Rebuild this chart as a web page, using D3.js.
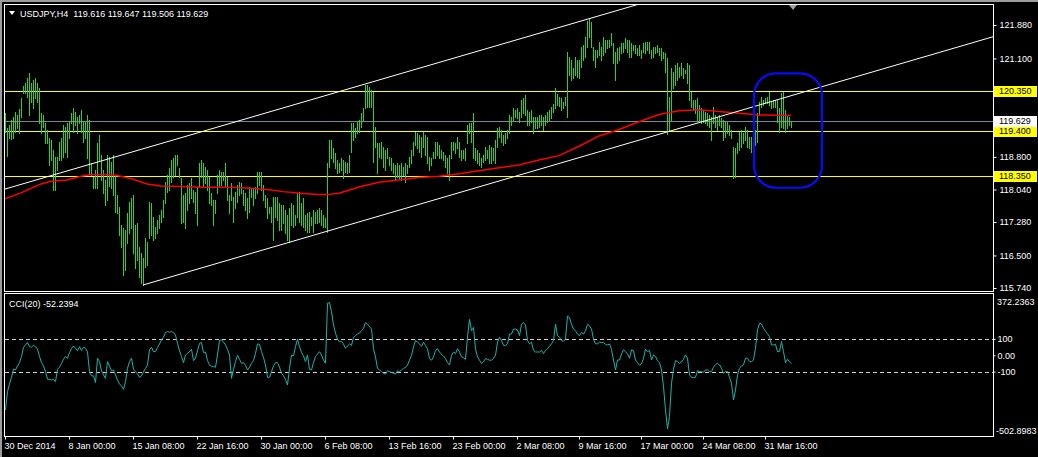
<!DOCTYPE html>
<html><head><meta charset="utf-8">
<script src="https://cdn.jsdelivr.net/npm/d3@7"></script>
<style>html,body{margin:0;padding:0;background:#000;overflow:hidden}
text{font-family:"Liberation Sans",Arial,sans-serif;font-size:9px;}</style>
</head><body><svg id="c" width="1038" height="457"></svg>
<script>
// ---------------- DATA ----------------
const symbolTitle = "USDJPY,H4";
const lastOHLC = [119.616, 119.647, 119.506, 119.629];
const highs = [
119.83,119.47,119.55,119.66,119.73,119.85,119.78,119.92,120.17,120.46,
120.52,120.64,120.76,120.52,120.60,120.64,120.52,120.41,119.83,119.78,
119.59,119.43,119.24,119.20,118.96,118.80,118.80,119.15,119.24,119.55,
119.50,119.59,119.62,119.83,119.94,119.85,119.73,119.78,119.90,119.62,
119.62,119.78,119.66,118.66,118.33,118.50,119.13,119.31,118.85,118.50,
118.26,118.85,118.80,118.68,118.85,118.38,117.91,117.63,117.21,117.14,
117.09,117.49,117.75,117.84,117.91,117.21,117.26,116.70,116.56,116.44,
116.91,116.81,117.75,117.72,117.40,117.16,117.33,117.44,117.56,117.79,
118.21,118.38,118.54,118.73,118.77,118.85,118.85,118.54,118.31,117.91,
117.96,118.15,118.19,118.31,118.03,117.98,118.10,118.66,118.73,118.66,
118.56,118.50,118.33,117.96,117.79,117.79,118.38,118.50,118.45,118.45,
118.66,118.33,117.91,118.19,117.86,117.98,118.15,118.21,118.19,118.03,
117.96,117.84,118.10,118.07,118.07,118.10,118.45,118.45,118.45,118.15,
117.91,117.84,117.63,117.63,117.86,117.86,117.86,117.72,117.68,117.68,
117.56,117.44,117.61,117.72,117.68,117.44,117.96,117.98,117.72,117.84,
117.44,117.49,117.51,117.40,117.56,117.51,117.56,117.61,117.56,117.44,
117.37,118.66,119.20,119.20,119.01,118.89,118.73,118.66,118.77,118.73,
118.68,118.66,118.85,119.59,119.59,119.47,119.62,119.66,119.83,119.94,
120.48,120.48,120.44,120.36,120.32,119.50,119.12,119.12,119.15,119.03,
118.96,119.00,118.80,118.77,118.66,118.61,118.66,118.61,118.66,118.57,
118.66,118.61,118.80,118.96,119.15,119.38,119.35,119.31,119.27,119.38,
119.31,119.27,118.80,118.77,118.91,119.15,119.15,119.08,118.96,118.91,
118.85,118.77,118.85,119.15,119.15,119.12,119.27,119.15,118.96,118.96,
119.01,119.55,119.59,119.59,119.83,119.01,118.96,118.89,118.77,118.85,
119.03,118.96,119.08,119.03,119.01,119.20,119.47,119.50,119.43,119.31,
119.36,119.43,119.78,119.73,119.94,119.90,119.94,119.85,120.13,120.17,
120.25,119.90,119.85,119.90,119.73,119.73,119.73,119.78,119.78,119.73,
119.78,119.85,119.90,119.97,120.04,120.41,120.27,120.20,120.17,120.08,
120.20,121.25,121.14,121.06,120.88,121.14,121.06,121.06,121.37,121.41,
121.60,121.98,122.03,121.95,121.37,121.30,121.30,121.48,121.37,121.60,
121.53,121.53,121.53,121.69,121.45,121.25,121.34,121.37,121.45,121.45,
121.57,121.53,121.53,121.45,121.41,121.41,121.34,121.41,121.30,121.45,
121.48,121.48,121.48,121.30,121.37,121.37,121.41,121.34,121.34,121.25,
121.22,121.11,120.20,120.87,120.78,120.95,120.99,120.90,120.99,120.87,
120.83,120.99,120.95,120.32,120.13,120.13,120.17,120.01,119.94,119.90,
119.85,119.83,119.78,119.73,119.97,119.78,119.73,119.78,119.71,119.66,
119.62,119.62,119.55,119.43,119.03,119.01,119.12,119.38,119.43,119.36,
119.50,119.43,119.27,119.27,119.31,119.43,119.82,120.08,120.20,120.13,
120.17,120.20,120.32,120.08,120.13,120.13,120.13,119.94,120.29,120.32,
119.90,119.78,119.73,119.647];
const lows = [
119.38,118.82,119.24,119.22,119.24,119.38,119.48,119.36,119.73,120.29,
120.29,120.20,119.78,120.08,119.94,120.17,120.08,119.59,119.36,119.50,
119.13,119.13,118.61,118.73,118.03,118.03,118.50,118.73,118.73,118.80,
118.92,118.80,119.24,119.59,119.38,119.55,119.36,119.59,119.38,119.15,
119.24,118.77,118.42,118.38,118.07,118.07,118.07,118.73,118.26,117.96,
117.68,117.79,118.12,118.07,117.91,117.51,117.49,116.98,116.70,116.04,
116.16,116.79,117.02,117.14,116.56,116.21,116.39,116.00,115.86,115.81,
116.23,116.28,116.91,116.98,116.86,116.91,117.02,117.14,117.28,117.40,
117.72,117.98,118.03,118.21,118.33,118.38,118.61,118.33,117.26,117.28,
117.14,117.56,117.72,117.84,117.75,117.49,117.21,118.10,118.33,118.10,
118.19,118.03,117.72,117.68,117.21,117.49,117.96,118.10,118.15,118.26,
118.10,117.79,117.49,117.79,117.28,117.61,117.75,117.91,117.96,117.68,
117.56,117.37,117.51,117.86,117.68,117.84,117.96,118.15,118.03,117.79,
117.63,117.37,117.49,117.28,116.86,117.40,117.33,117.09,117.09,117.26,
117.02,116.86,116.81,117.21,117.16,117.21,117.40,117.28,117.21,117.16,
117.09,117.05,117.05,117.21,117.05,117.26,117.26,117.28,117.21,117.16,
117.16,117.05,118.57,118.77,118.68,118.54,118.42,118.45,118.50,118.31,
118.45,118.42,118.45,118.92,119.20,119.27,119.36,119.38,119.50,119.66,
119.94,119.97,119.97,119.97,118.68,119.04,118.42,118.80,118.77,118.57,
118.50,118.77,118.61,118.50,118.42,118.26,118.33,118.31,118.26,118.38,
118.21,118.42,118.57,118.66,118.85,119.08,119.01,118.92,118.80,119.03,
118.85,118.66,118.50,118.61,118.77,118.77,118.85,118.77,118.77,118.73,
118.57,118.42,118.26,118.77,118.96,118.89,119.01,118.80,118.73,118.77,
118.73,119.12,119.36,119.15,118.77,118.73,118.66,118.61,118.57,118.68,
118.73,118.77,118.66,118.66,118.73,118.66,119.03,119.27,119.15,119.08,
119.12,119.24,119.36,119.55,119.66,119.73,119.71,119.62,119.73,119.82,
119.78,119.55,119.55,119.62,119.36,119.47,119.47,119.50,119.55,119.43,
119.55,119.62,119.66,119.71,119.85,119.94,120.01,119.99,119.90,119.94,
120.01,119.73,120.71,120.60,120.64,120.71,120.67,120.64,120.90,121.06,
121.13,121.37,121.60,121.37,121.06,120.90,121.13,121.18,121.06,121.18,
121.25,121.34,121.37,121.41,120.99,120.60,120.99,121.06,121.22,121.25,
121.34,121.25,121.13,121.13,121.30,121.22,121.18,121.18,121.11,121.25,
121.22,121.30,121.22,121.11,121.13,121.22,121.25,121.18,121.06,121.11,
120.78,119.33,119.43,119.66,120.41,120.48,120.60,120.67,120.71,120.64,
120.76,120.52,120.13,119.97,119.90,119.82,119.66,119.66,119.59,119.62,
119.59,119.55,119.50,119.20,119.59,119.50,119.43,119.55,119.50,119.20,
119.27,119.36,119.31,119.24,118.31,118.33,118.89,118.96,119.03,119.12,
119.20,119.03,119.01,118.92,119.08,119.08,119.15,119.78,119.97,120.01,
120.06,120.06,120.01,119.94,119.97,119.97,119.62,119.38,119.50,119.47,
119.38,119.47,119.55,119.506];
// red moving average, read at these bar indices
const maIndex  = [0,8,18,23,31,38,43,53,58,64,71,78,88,98,113,123,131,139,148,156,161,167,177,187,197,207,217,227,237,247,257,267,277,287,297,307,317,327,337,347,357,367,377,393];
const maValues = [117.82,117.96,118.17,118.23,118.26,118.35,118.39,118.39,118.35,118.28,118.17,118.12,118.11,118.09,118.09,118.07,118.04,117.99,117.95,117.92,117.92,117.95,118.10,118.21,118.26,118.32,118.35,118.41,118.48,118.55,118.61,118.73,118.83,119.05,119.29,119.44,119.62,119.79,119.88,119.90,119.86,119.82,119.78,119.77];
const cci = [
-335,-222,-175,-135,-84,-90,-65,-45,-8,49,
63,78,53,49,61,53,37,-8,-45,-65,
-100,-147,-147,-151,-147,-161,-86,-73,-49,-24,
-8,-18,16,41,57,43,27,53,29,49,
43,20,-100,-126,-126,-167,-18,-39,-96,-120,
-141,-39,-65,-96,-90,-120,-151,-175,-188,-208,
-161,-80,-39,-18,-86,-100,-114,-135,-126,-102,
-80,-59,33,49,22,22,47,69,94,110,
139,145,141,145,139,124,73,27,-8,-45,
2,12,22,37,-33,-18,27,73,78,16,
20,-33,-61,-67,-69,-73,2,90,94,80,
63,37,2,-141,-86,-39,0,-24,-49,-45,
-61,-90,-73,-49,-33,12,69,67,22,-14,
-59,-135,-135,-100,-65,-45,-45,-73,-110,-126,
-147,-182,-80,2,-4,53,98,53,16,-4,
-39,2,-86,-90,-45,-8,8,22,2,-29,
-49,318,322,267,186,135,98,82,84,69,
43,57,69,60,110,120,130,135,150,165,
200,190,175,160,40,-10,-80,-90,-100,-110,
-115,-95,-100,-105,-110,-115,-95,-100,-90,-80,
-75,-60,-30,0,50,90,80,70,55,80,
60,40,-20,-30,-10,30,40,20,5,-5,
-20,-45,-60,0,20,10,40,20,-10,-15,
-25,110,220,150,170,40,-10,-30,-50,-40,
-20,-25,-30,-30,-20,0,80,110,90,60,
60,70,130,130,160,160,155,120,190,200,
185,90,70,80,30,20,20,20,30,10,
30,40,55,70,90,190,120,110,90,85,
100,240,230,190,160,150,130,120,140,130,
150,190,180,160,100,70,70,80,78,78,
67,63,69,37,-29,-90,-29,-29,8,33,
22,8,-18,33,27,-29,-45,-61,-53,-18,
37,22,29,-29,2,-8,-33,-45,-90,-192,
-335,-450,-375,-171,-86,-33,-37,-49,-41,-24,
2,-18,-120,-135,-137,-135,-94,-100,-100,-104,
-90,-90,-100,-100,-73,-57,-49,-59,-80,-110,
-100,-100,-135,-171,-273,-212,-120,-80,-65,-59,
-18,-18,-39,-39,-29,43,155,196,192,165,
147,131,114,63,63,67,22,22,84,22,
-45,-24,-39,-52];
const cciLast = -52.2394;
const cciPeriod = 20;
const timeTickIndex  = [0,32,64,96,128,160,192,224,256,287,318,349,380];
const timeTickLabels = ["30 Dec 2014","8 Jan 00:00","15 Jan 08:00","22 Jan 16:00","30 Jan 00:00","6 Feb 08:00","13 Feb 16:00","23 Feb 00:00","2 Mar 08:00","9 Mar 16:00","17 Mar 00:00","24 Mar 08:00","31 Mar 16:00"];
const priceTicks = [121.88,121.10,118.80,118.04,117.28,116.50,115.74];
const priceDomain = [115.74,121.88];
const hLevels = [120.35,119.40,118.35];
const bidPrice = 119.629;
const channelUpper = [[0,118.05],[268,121.70]];
const channelLower = [[69,115.81],[300,118.96]];
const cciDomain = [-502.8983,372.2363];
const cciLevels = [100,-100];
const cciTickValues = [100,0,-100];
const cciTickLabels = ["100","0.00","-100"];
const highlightBox = {i0:374.5, i1:408.5, pTop:120.75, pBottom:118.08};

// ---------------- DRAW ----------------
const svg = d3.select("#c");
const L=4.5, R=993.5, mT=4.5, mB=291.5, sT=293.5, sB=436.5;
const FONT = "Liberation Sans, Arial, sans-serif";
svg.append("rect").attr("width",1038).attr("height",457).attr("fill","#000");
svg.append("rect").attr("x",0).attr("y",0).attr("width",2).attr("height",457).attr("fill","#9c9c9c");
svg.append("rect").attr("x",0).attr("y",0).attr("width",1038).attr("height",2).attr("fill","#9c9c9c");

const n = highs.length;
const x = d3.scaleLinear().domain([0,n-1]).range([5,5+2*(n-1)]);
const y = d3.scaleLinear().domain(priceDomain).range([288,25]);
const yc = d3.scaleLinear().domain(cciDomain).range([437.5,294.4]);
const px = v => Math.round(v)+0.5;
const fix = (v,k) => v.toFixed(k); // plain ASCII hyphen for negatives

const defs = svg.append("defs");
defs.append("clipPath").attr("id","cm").append("rect").attr("x",5).attr("y",5).attr("width",988).attr("height",286);
defs.append("clipPath").attr("id","cs").append("rect").attr("x",5).attr("y",294).attr("width",988).attr("height",142);

const gm = svg.append("g").attr("clip-path","url(#cm)");
// horizontal levels
gm.append("line").attr("x1",5).attr("x2",993).attr("y1",px(y(bidPrice))).attr("y2",px(y(bidPrice)))
  .attr("stroke","#778899").attr("shape-rendering","crispEdges");
gm.selectAll("line.lvl").data(hLevels).join("line").attr("class","lvl")
  .attr("x1",5).attr("x2",993).attr("y1",d=>px(y(d))).attr("y2",d=>px(y(d)))
  .attr("stroke","#ffff00").attr("shape-rendering","crispEdges");
// bars
gm.selectAll("line.bar").data(d3.range(n)).join("line").attr("class","bar")
  .attr("x1",i=>px(x(i))).attr("x2",i=>px(x(i)))
  .attr("y1",i=>Math.round(y(highs[i]))).attr("y2",i=>Math.round(y(lows[i]))+1)
  .attr("stroke","#32cd32").attr("shape-rendering","crispEdges");
// moving average
gm.append("path").datum(d3.range(maIndex.length))
  .attr("d",d3.line().x(k=>x(maIndex[k])).y(k=>y(maValues[k])))
  .attr("fill","none").attr("stroke","#ff0000").attr("stroke-width",1.5);
// channel
function ray(a,b){const s=(b[1]-a[1])/(b[0]-a[0]);const e=520;return [[a[0],a[1]],[e,a[1]+s*(e-a[0])]];}
[channelUpper,channelLower].forEach(c=>{
  gm.append("path").datum(ray(c[0],c[1]))
    .attr("d",d3.line().x(d=>x(d[0])).y(d=>y(d[1])))
    .attr("stroke","#ffffff").attr("stroke-width",1).attr("fill","none");
});
// highlight box
gm.append("rect").attr("x",x(highlightBox.i0)).attr("y",y(highlightBox.pTop))
  .attr("width",x(highlightBox.i1)-x(highlightBox.i0)).attr("height",y(highlightBox.pBottom)-y(highlightBox.pTop))
  .attr("rx",22).attr("ry",22).attr("fill","none").attr("stroke","#0a0aff").attr("stroke-width",2.2);

// frames
svg.append("rect").attr("x",L).attr("y",mT).attr("width",R-L).attr("height",mB-mT).attr("fill","none").attr("stroke","#fff");
svg.append("rect").attr("x",L).attr("y",sT).attr("width",R-L).attr("height",sB-sT).attr("fill","none").attr("stroke","#fff");

// price axis
const ay = svg.append("g").attr("transform",`translate(${R},0)`)
  .call(d3.axisRight(y).tickValues(priceTicks).tickSize(3).tickPadding(3).tickFormat(d=>fix(d,3)));
ay.select(".domain").remove();
ay.selectAll("line").attr("stroke","#fff");
ay.selectAll("text").attr("fill","#fff").style("font-size","9px").style("font-family",FONT);

// level labels
const lab = [...hLevels.map(v=>({v,bg:"#ffff00"})),{v:bidPrice,bg:"#ffffff"}];
lab.forEach(d=>{
  const cy = y(d.v);
  svg.append("rect").attr("x",994).attr("y",Math.round(cy)-5).attr("width",43).attr("height",11).attr("fill",d.bg);
  svg.append("text").attr("x",999).attr("y",cy).attr("dy","0.33em").attr("fill","#000").text(fix(d.v,3));
});

// header
svg.append("path").attr("d","M9,11 L15,11 L12,15 Z").attr("fill","#fff");
svg.append("text").attr("x",20).attr("y",16.5).attr("fill","#fff").attr("xml:space","preserve")
  .text(symbolTitle+"  "+lastOHLC.map(v=>fix(v,3)).join(" "));
// chart shift marker
svg.append("path").attr("d","M789,5 L797,5 L793,10 Z").attr("fill","#a0a0a0");

// CCI panel
const gs = svg.append("g").attr("clip-path","url(#cs)");
gs.selectAll("line.cl").data(cciLevels).join("line").attr("class","cl")
  .attr("x1",5).attr("x2",993).attr("y1",d=>px(yc(d))).attr("y2",d=>px(yc(d)))
  .attr("stroke","#d0d0d0").attr("stroke-dasharray","4,3").attr("shape-rendering","crispEdges");
gs.append("path").datum(cci)
  .attr("d",d3.line().x((d,i)=>x(i)+0.5).y(d=>yc(d)))
  .attr("fill","none").attr("stroke","#20b2aa").attr("stroke-width",1);
svg.append("text").attr("x",9).attr("y",307).attr("fill","#fff")
  .text(`CCI(${cciPeriod}) ${fix(cciLast,4)}`);
const ac = svg.append("g").attr("transform",`translate(${R},0)`)
  .call(d3.axisRight(yc).tickValues(cciTickValues).tickSize(2).tickPadding(2).tickFormat((d,i)=>cciTickLabels[i]));
ac.select(".domain").remove();
ac.selectAll("line").attr("stroke","#fff");
ac.selectAll("text").attr("fill","#fff").style("font-size","9px").style("font-family",FONT);
svg.append("text").attr("x",997).attr("y",yc(cciDomain[1])+7.5).attr("dy","0.33em").attr("fill","#fff").text(fix(cciDomain[1],4));
svg.append("text").attr("x",996).attr("y",yc(cciDomain[0])-6.5).attr("dy","0.33em").attr("fill","#fff").text(fix(cciDomain[0],4));

// time axis
const ax = svg.append("g").attr("transform",`translate(0,${sB})`)
  .call(d3.axisBottom(x).tickValues(timeTickIndex).tickSize(3).tickPadding(3).tickFormat((d,i)=>timeTickLabels[i]));
ax.select(".domain").remove();
ax.selectAll("line").attr("stroke","#fff");
ax.selectAll("text").attr("fill","#fff").attr("text-anchor","start").attr("x",-1)
  .style("font-size","9px").style("font-family",FONT);
</script></body></html>
